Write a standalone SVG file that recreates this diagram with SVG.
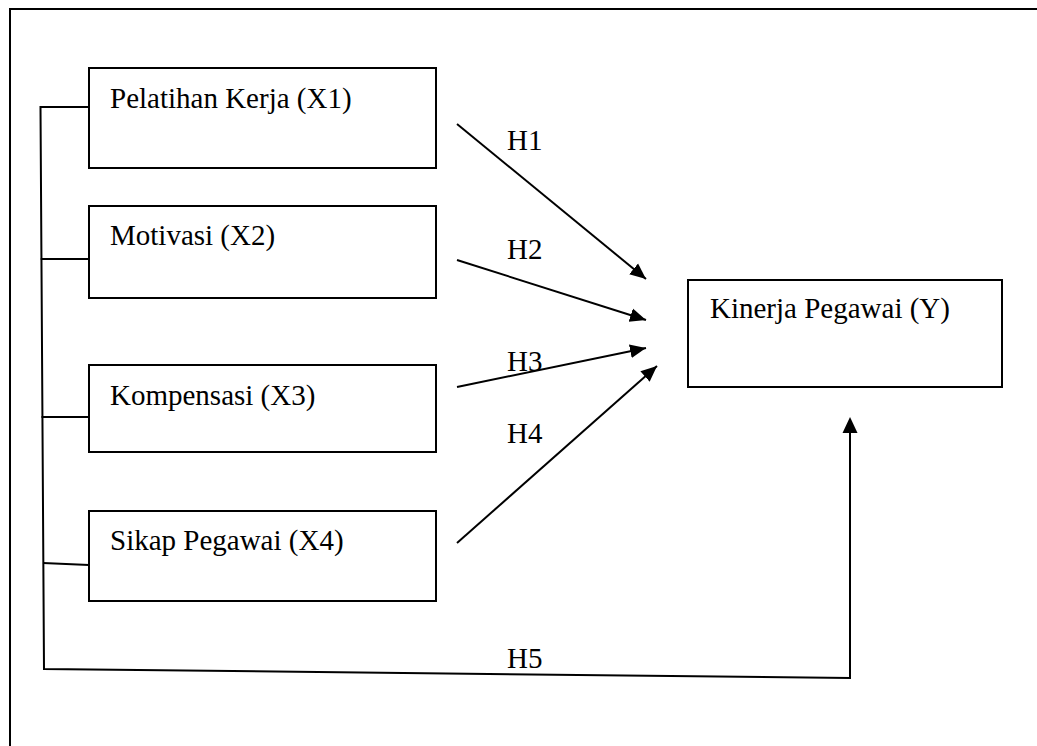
<svg xmlns="http://www.w3.org/2000/svg" width="1037" height="746" viewBox="0 0 1037 746">
<defs>
<style>
.box{fill:#fff;stroke:#000;stroke-width:2}
.ln{fill:none;stroke:#000;stroke-width:2}
.t{font-family:"Liberation Serif","Times New Roman",serif;font-size:29px;fill:#000}
</style>
<marker id="ah" viewBox="0 0 16 16" refX="16" refY="8" markerWidth="16" markerHeight="16" markerUnits="userSpaceOnUse" orient="auto">
<path d="M0,1 L16,8 L0,15 Z" fill="#000"/>
</marker>
</defs>
<rect width="1037" height="746" fill="#fff"/>
<g id="frame">
<path class="ln" d="M10,746 L10,9 L1037,9"/>
</g>
<g id="x1"><rect class="box" x="89" y="68" width="347" height="100"/><text class="t" x="110" y="108">Pelatihan Kerja (X1)</text></g>
<g id="x2"><rect class="box" x="89" y="206" width="347" height="92"/><text class="t" x="110" y="245">Motivasi (X2)</text></g>
<g id="x3"><rect class="box" x="89" y="365" width="347" height="87"/><text class="t" x="110" y="405">Kompensasi (X3)</text></g>
<g id="x4"><rect class="box" x="89" y="511" width="347" height="90"/><text class="t" x="110" y="550">Sikap Pegawai (X4)</text></g>
<g id="y"><rect class="box" x="688" y="280" width="314" height="107"/><text class="t" x="710" y="318">Kinerja Pegawai (Y)</text></g>
<g id="connectors">
<path class="ln" d="M89,107 L40.5,107 L44,669 L850,678 L850,432"/>
<path class="ln" d="M40.7,259 L89,259"/>
<path class="ln" d="M41.5,417 L89,417"/>
<path class="ln" d="M43,563 L89,565"/>
<path d="M850,417 L857.5,433 L842.5,433 Z" fill="#000"/>
<line class="ln" x1="457" y1="124" x2="646" y2="279" marker-end="url(#ah)"/>
<line class="ln" x1="457" y1="260" x2="646" y2="320" marker-end="url(#ah)"/>
<line class="ln" x1="457" y1="387" x2="646" y2="348" marker-end="url(#ah)"/>
<line class="ln" x1="457" y1="543" x2="657" y2="366" marker-end="url(#ah)"/>
<text class="t" x="507" y="150">H1</text>
<text class="t" x="507" y="259">H2</text>
<text class="t" x="507" y="371">H3</text>
<text class="t" x="507" y="443">H4</text>
<text class="t" x="507" y="668">H5</text>
</g>
</svg>
